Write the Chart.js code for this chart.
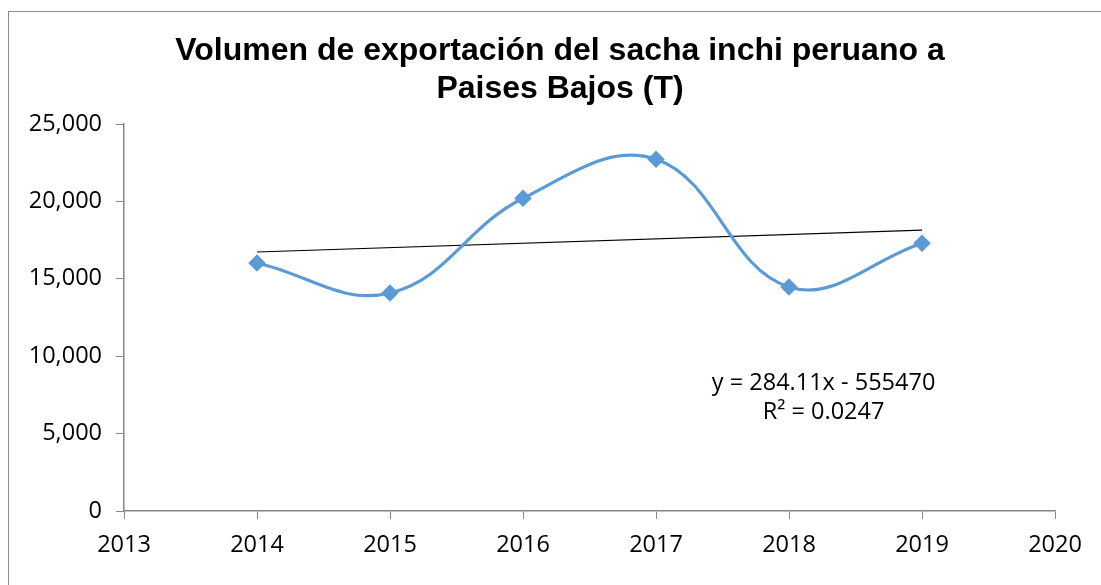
<!DOCTYPE html>
<html>
<head>
<meta charset="utf-8">
<script src="https://cdn.jsdelivr.net/npm/chart.js@4/dist/chart.umd.min.js"></script>
<style>
  html, body { margin: 0; padding: 0; background: #fff; overflow: hidden; }
  #frame { position: absolute; left: 8px; top: 11px; width: 1200px; height: 700px; border: 1px solid #8c8c8c; }
  #chart { position: absolute; left: 0; top: 0; }
</style>
</head>
<body>
<div id="frame"></div>
<canvas id="chart" width="1101" height="585"></canvas>
<script>
// valores
const years = [2014, 2015, 2016, 2017, 2018, 2019];
const volumen = [16020, 14080, 20200, 22720, 14470, 17300];

// linea de tendencia (extremos)
const trendYears = [2014, 2019];
const trendValues = [16730, 18150];
const trendText = ['y = 284.11x - 555470', 'R² = 0.0247'];

const titleLines = ['Volumen de exportación del sacha inchi peruano a', 'Paises Bajos (T)'];

const xMin = 2013, xMax = 2020;
const yTicks = [0, 5000, 10000, 15000, 20000, 25000];

// titulo centrado sobre el marco, no sobre el area del grafico
const titleDraw = {
  id: 'titleDraw',
  afterDraw(chart) {
    const ctx = chart.ctx;
    ctx.save();
    ctx.fillStyle = '#000';
    ctx.font = 'bold 32px "Liberation Sans", Arial';
    ctx.textAlign = 'center';
    ctx.textBaseline = 'middle';
    ctx.fillText(titleLines[0], 560, 51);
    ctx.fillText(titleLines[1], 560, 89);
    ctx.restore();
  }
};

const eqLabel = {
  id: 'eqLabel',
  afterDatasetsDraw(chart) {
    const ctx = chart.ctx;
    const x = chart.scales.x.getPixelForValue(2018.26);
    const y1 = chart.scales.y.getPixelForValue(8270);
    const y2 = chart.scales.y.getPixelForValue(6400);
    ctx.save();
    ctx.fillStyle = '#000';
    ctx.font = '23.5px "Open Sans"';
    ctx.textAlign = 'center';
    ctx.textBaseline = 'middle';
    ctx.fillText(trendText[0], x, y1);
    ctx.fillText(trendText[1], x, y2);
    ctx.restore();
  }
};

new Chart(document.getElementById('chart'), {
  type: 'line',
  data: {
    datasets: [
      {
        label: 'Volumen',
        data: years.map((yr, i) => ({ x: yr, y: volumen[i] })),
        borderColor: '#5b9bd5',
        backgroundColor: '#5b9bd5',
        borderWidth: 3.2,
        tension: 0.4,
        pointStyle: 'rectRot',
        pointRadius: 6.5,
        pointHoverRadius: 6.5
      },
      {
        label: 'Tendencia',
        data: trendYears.map((yr, i) => ({ x: yr, y: trendValues[i] })),
        borderColor: '#000',
        borderWidth: 1.2,
        pointRadius: 0,
        tension: 0
      }
    ]
  },
  options: {
    responsive: false,
    animation: false,
    layout: { padding: { left: 20, top: 124, right: 46, bottom: 0 } },
    plugins: {
      legend: { display: false },
      tooltip: { enabled: false },
      title: { display: false }
    },
    scales: {
      x: {
        type: 'linear',
        min: xMin,
        max: xMax,
        afterFit: (s) => { s.height = 74; },
        ticks: {
          stepSize: 1,
          color: '#000',
          padding: 12,
          font: { family: '"Open Sans"', size: 23.5 },
          callback: (v) => String(v)
        },
        grid: { drawOnChartArea: false, drawTicks: true, tickLength: 8, color: '#868686' },
        border: { color: '#868686', width: 1.5 }
      },
      y: {
        min: 0,
        max: 25000,
        afterFit: (s) => { s.width = 104; },
        afterBuildTicks: (s) => { s.ticks = yTicks.map(v => ({ value: v })); },
        ticks: {
          color: '#000',
          padding: 14,
          font: { family: '"Open Sans"', size: 23.5 },
          callback: (v) => v.toLocaleString('en-US')
        },
        grid: { drawOnChartArea: false, drawTicks: true, tickLength: 8, color: '#868686' },
        border: { color: '#868686', width: 1.5 }
      }
    }
  },
  plugins: [eqLabel, titleDraw]
});
</script>
</body>
</html>
